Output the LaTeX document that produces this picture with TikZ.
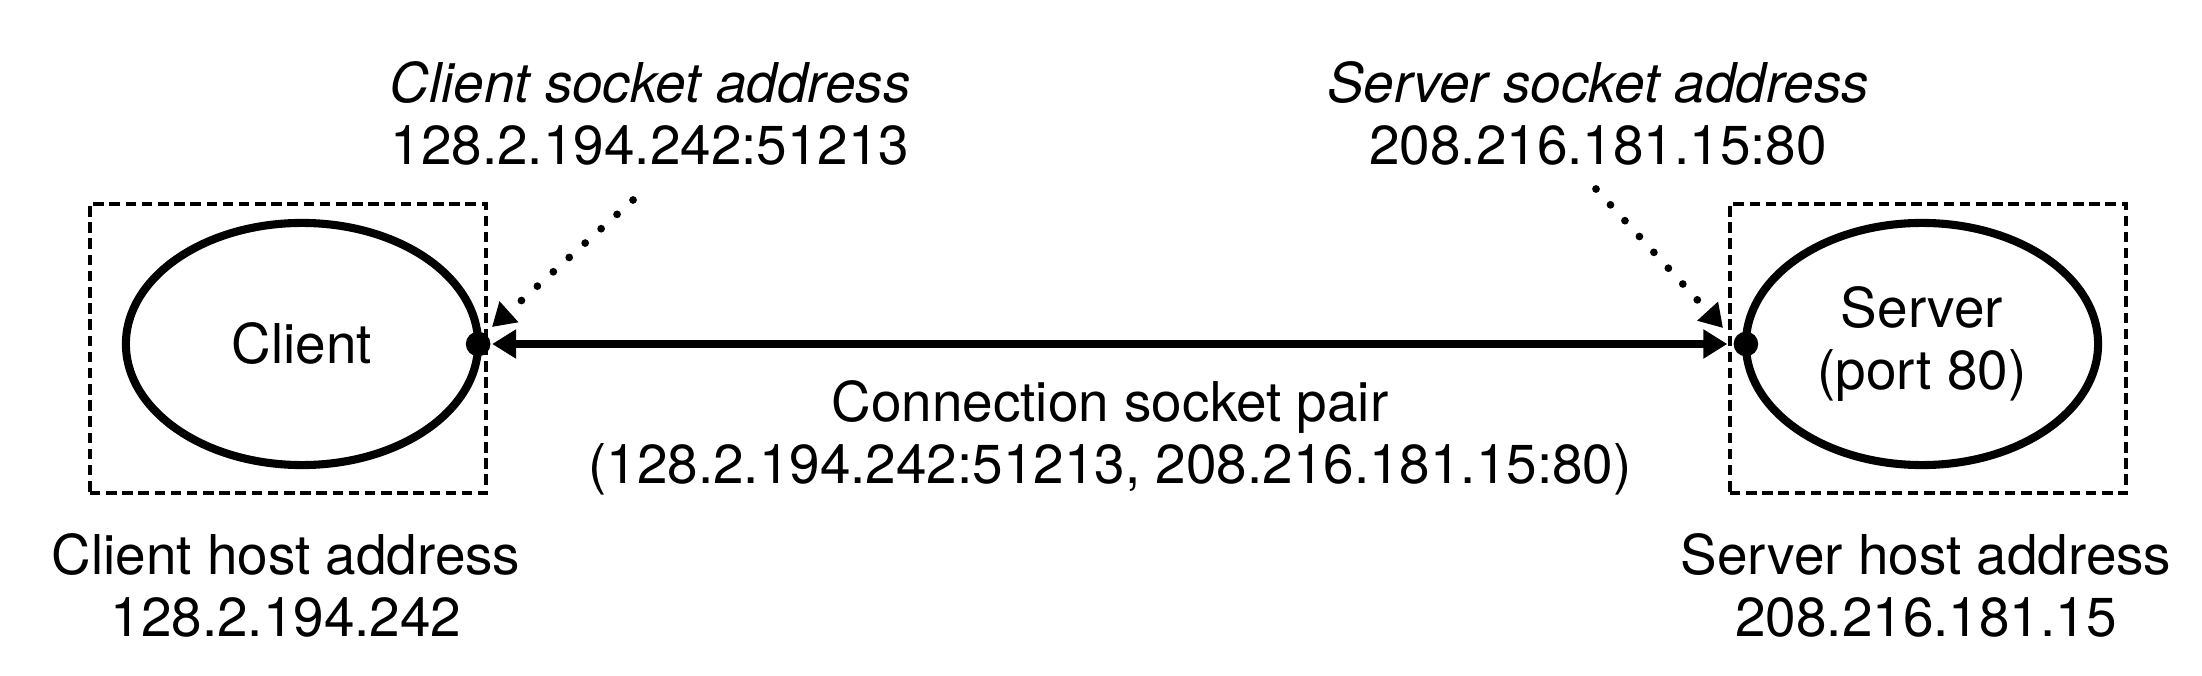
\documentclass[tikz,border=0pt]{standalone}
\usepackage{fontspec}
\setmainfont{TeX Gyre Heros}
\usetikzlibrary{arrows.meta,shapes.geometric}
\begin{document}
\begin{tikzpicture}[x=0.01cm,y=-0.01cm,
  every node/.style={font=\fontsize{15.6}{17.6}\selectfont},
  hostbox/.style={draw, line width=1.05pt, dash pattern=on 3pt off 1.6pt,
    minimum width=3.96cm, minimum height=2.89cm, inner sep=0pt},
  proc/.style={ellipse, draw, line width=2.3pt, minimum width=3.52cm,
    minimum height=2.42cm, inner sep=0pt, outer sep=0pt, align=center},
  sock/.style={circle, fill, minimum size=7pt, inner sep=0pt},
  lbl/.style={align=center, inner sep=0pt, anchor=north},
  conn/.style={line width=2.2pt,
    {Triangle[length=6.8pt,width=7.9pt]}-{Triangle[length=6.8pt,width=7.9pt]},
    shorten <=0.3pt, shorten >=1.6pt},
  ptr/.style={line width=2.2pt, line cap=round, dash pattern=on 0pt off 6.1pt,
    -{Triangle[length=6.5pt,width=7.6pt]}}
]
\useasboundingbox (0,0) rectangle (2202,676);

% host boxes
\node[hostbox] (chost) at (288,348.5) {};
\node[hostbox] (shost) at (1928,348.5) {};

% processes
\node[proc] (client) at (302,344) {Client};
\node[proc] (server) at (1922,344) {Server\\(port 80)};

% sockets
\node[sock] (cdot) at (client.east) {};
\node[sock] (sdot) at (server.west) {};

% connection
\draw[conn] (cdot) -- (sdot);

% labels
\node[lbl] (csa) at (650,61) {\textit{Client socket address}\\128.2.194.242:51213};
\node[lbl] (ssa) at (1598,61) {\textit{Server socket address}\\208.216.181.15:80};
\node[lbl] (pair) at (1110,380) {Connection socket pair\\(128.2.194.242:51213, 208.216.181.15:80)};
\node[lbl] (cha) at (286,533) {Client host address\\128.2.194.242};
\node[lbl] (sha) at (1926,533) {Server host address\\208.216.181.15};

% pointers
\coordinate (cps) at (633,200);
\coordinate (cpe) at (492,327);
\coordinate (sps) at (1596,189);
\coordinate (spe) at (1723,328);
\draw[ptr] (cps) -- (cpe);
\draw[ptr] (sps) -- (spe);
\end{tikzpicture}
\end{document}
